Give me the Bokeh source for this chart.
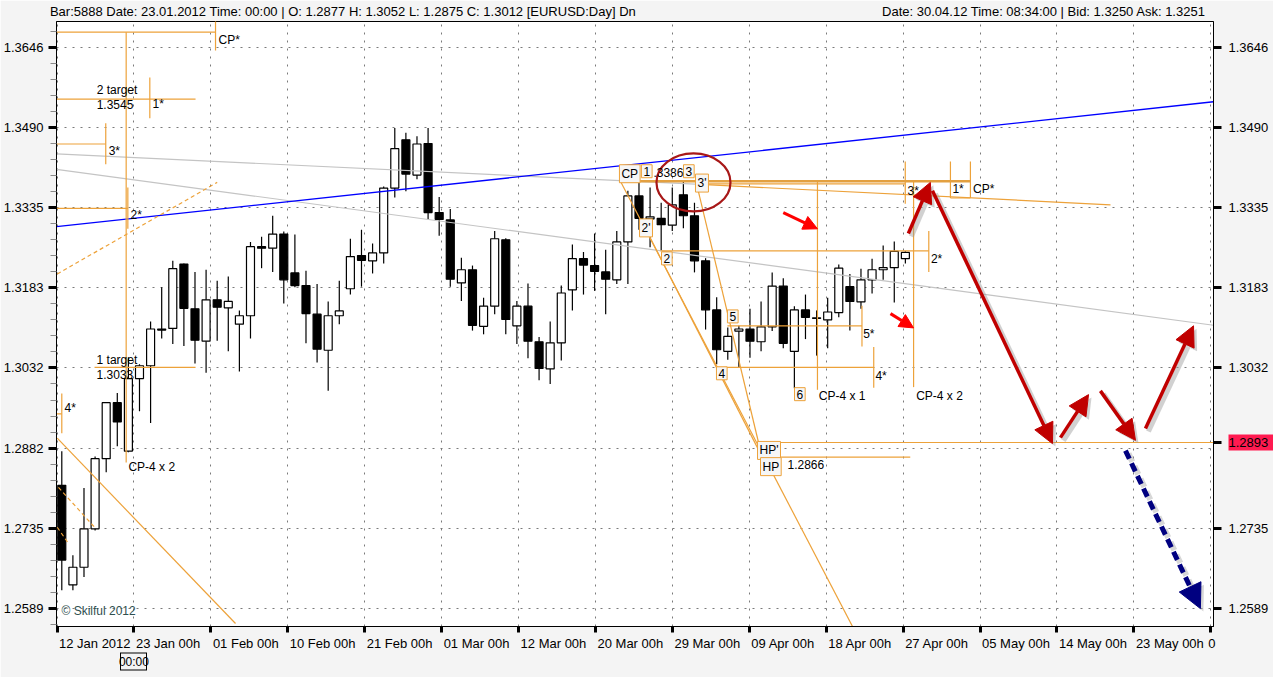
import math
from bokeh.plotting import figure
from bokeh.models import (Range1d, FixedTicker, Label, Arrow, NormalHead, LinearAxis, AllLabels,
                          PrintfTickFormatter, LogAxis, ColumnDataSource, CustomJSTickFormatter)
from bokeh.embed import file_html
from bokeh.resources import INLINE

# ---------------- data (EURUSD daily) ----------------
opens = [1.2814, 1.2632, 1.2664, 1.2734, 1.2863, 1.2967, 1.2877, 1.3012, 1.3036, 1.3105,
         1.3106, 1.3228, 1.3143, 1.3082, 1.3160, 1.3145, 1.3114, 1.3130, 1.3261, 1.3258,
         1.3285, 1.3211, 1.3187, 1.3133, 1.3065, 1.3130, 1.3181, 1.3244, 1.3234, 1.3249,
         1.3373, 1.3466, 1.3398, 1.3459, 1.3326, 1.3312, 1.3192, 1.3217, 1.3110, 1.3148,
         1.3274, 1.3111, 1.3148, 1.3081, 1.3030, 1.3079, 1.3179, 1.3238, 1.3225, 1.3213,
         1.3198, 1.3270, 1.3358, 1.3314, 1.3315, 1.3302, 1.3360, 1.3320, 1.3234, 1.3141,
         1.3063, 1.3101, 1.3105, 1.3081, 1.3109, 1.3186, 1.3063, 1.3141, 1.3125, 1.3122,
         1.3136, 1.3185, 1.3156, 1.3198, 1.3217, 1.3221, 1.3238]
highs = [1.2877, 1.2686, 1.2809, 1.2867, 1.2968, 1.2985, 1.3052, 1.3039, 1.3119, 1.3184,
         1.3234, 1.3229, 1.3213, 1.3217, 1.3196, 1.3204, 1.3140, 1.3270, 1.3280, 1.3320,
         1.3290, 1.3284, 1.3215, 1.3190, 1.3157, 1.3196, 1.3276, 1.3293, 1.3267, 1.3376,
         1.3489, 1.3480, 1.3473, 1.3489, 1.3356, 1.3333, 1.3240, 1.3225, 1.3164, 1.3291,
         1.3277, 1.3158, 1.3191, 1.3090, 1.3119, 1.3187, 1.3265, 1.3251, 1.3286, 1.3255,
         1.3291, 1.3368, 1.3383, 1.3374, 1.3345, 1.3374, 1.3386, 1.3345, 1.3239, 1.3165,
         1.3108, 1.3111, 1.3143, 1.3157, 1.3212, 1.3201, 1.3148, 1.3170, 1.3140, 1.3164,
         1.3227, 1.3209, 1.3219, 1.3238, 1.3263, 1.3271, 1.3252]
lows = [1.2622, 1.2622, 1.2646, 1.2731, 1.2838, 1.2886, 1.2875, 1.2951, 1.2929, 1.3087,
        1.3077, 1.3073, 1.3040, 1.3023, 1.3083, 1.3063, 1.3025, 1.3087, 1.3220, 1.3213,
        1.3153, 1.3184, 1.3078, 1.3042, 1.2989, 1.3114, 1.3170, 1.3185, 1.3210, 1.3229,
        1.3355, 1.3367, 1.3390, 1.3314, 1.3282, 1.3185, 1.3158, 1.3102, 1.3095, 1.3133,
        1.3095, 1.3077, 1.3050, 1.3009, 1.3002, 1.3046, 1.3140, 1.3170, 1.3177, 1.3133,
        1.3190, 1.3190, 1.3293, 1.3260, 1.3253, 1.3291, 1.3296, 1.3212, 1.3104, 1.3039,
        1.3047, 1.3033, 1.3051, 1.3063, 1.3101, 1.3069, 1.2994, 1.3086, 1.3055, 1.3069,
        1.3127, 1.3102, 1.3143, 1.3172, 1.3198, 1.3155, 1.3229]
closes = [1.2677, 1.2664, 1.2734, 1.2863, 1.2967, 1.2931, 1.3012, 1.3036, 1.3105, 1.3103,
          1.3219, 1.3144, 1.3084, 1.3160, 1.3146, 1.3157, 1.3130, 1.3261, 1.3258, 1.3285,
          1.3198, 1.3187, 1.3134, 1.3067, 1.3130, 1.3139, 1.3242, 1.3235, 1.3249, 1.3373,
          1.3449, 1.3400, 1.3458, 1.3326, 1.3313, 1.3199, 1.3217, 1.3112, 1.3148, 1.3276,
          1.3123, 1.3148, 1.3082, 1.3031, 1.3079, 1.3173, 1.3238, 1.3226, 1.3214, 1.3199,
          1.3270, 1.3358, 1.3315, 1.3318, 1.3303, 1.3341, 1.3320, 1.3234, 1.3141, 1.3066,
          1.3091, 1.3105, 1.3082, 1.3109, 1.3186, 1.3078, 1.3141, 1.3127, 1.3126, 1.3137,
          1.3220, 1.3157, 1.3198, 1.3217, 1.3221, 1.3252, 1.3250]

y_ticks = [1.2589, 1.2735, 1.2882, 1.3032, 1.3183, 1.3335, 1.3490, 1.3646]
x_tick_labels = ["12 Jan 2012", "23 Jan 00h", "01 Feb 00h", "10 Feb 00h", "21 Feb 00h",
                 "01 Mar 00h", "12 Mar 00h", "20 Mar 00h", "29 Mar 00h", "09 Apr 00h",
                 "18 Apr 00h", "27 Apr 00h", "05 May 00h", "14 May 00h", "23 May 00h", "0"]

header_left = ("Bar:5888 Date: 23.01.2012 Time: 00:00 | O: 1.2877 H: 1.3052 "
               "L: 1.2875 C: 1.3012 [EURUSD:Day] Dn")
header_right = "Date: 30.04.12 Time: 08:34:00 | Bid: 1.3250 Ask: 1.3251"
cursor_bar = 6.5
cursor_text = "00:00"

# trend lines (bar index, price)
blue_x = [-0.48, 103.76]
blue_y = [1.3299, 1.3540]
grey_x0 = [-0.48, -0.48]
grey_y0 = [1.3439, 1.3409]
grey_x1 = [57.54, 103.76]
grey_y1 = [1.3380, 1.3112]

# orange marker lines (thin)
or_x0 = [-0.48, 13.85, 5.80, -0.48, 7.93, -0.48, 3.96, -0.48, 5.95, 2.95, 0.0, -0.48,
         -0.41, 50.33, 52.86, 57.27, 57.54, 57.54, 75.99, 80.06, 81.86, 80.06, 53.94,
         78.11, 59.97, 72.09, 58.98, 73.15, 68.08, 76.74, 62.77, 62.95]
or_y0 = [1.3676, 1.3700, 1.3676, 1.3545, 1.3587, 1.3458, 1.3498, 1.3334, 1.3374, 1.3033,
         1.2984, 1.2946, 1.2901, 1.3386, 1.3284, 1.3374, 1.3381, 1.3380, 1.3424, 1.3424,
         1.3424, 1.3354, 1.3253, 1.3291, 1.3111, 1.3149, 1.3033, 1.3071, 1.3386, 1.3386,
         1.2893, 1.2866]
or_x1 = [13.85, 13.85, 5.80, 12.05, 7.93, 3.96, 3.96, 5.95, 5.95, 12.05, 0.0, 0.0,
         15.65, 71.41, 63.13, 62.77, 75.99, 94.48, 75.99, 80.06, 81.86, 81.86, 78.11,
         78.11, 72.09, 72.09, 73.15, 73.15, 68.08, 76.74, 103.76, 76.44]
or_y1 = [1.3676, 1.3640, 1.2856, 1.3545, 1.3508, 1.3458, 1.3419, 1.3334, 1.3295, 1.3033,
         1.2910, 1.2946, 1.2562, 1.2550, 1.2865, 1.2893, 1.3381, 1.3341, 1.3343, 1.3354,
         1.3354, 1.3354, 1.3253, 1.3213, 1.3111, 1.3072, 1.3033, 1.2995, 1.2991, 1.2996,
         1.2893, 1.2866]
cp_x = [50.2, 81.86]
cp_y = [1.3386, 1.3386]
od_x0 = [-0.41, -0.30, -0.41]
od_y0 = [1.3209, 1.2810, 1.2737]
od_x1 = [14.0, 3.04, 0.58]
od_y1 = [1.3384, 1.2735, 1.2708]

box_text = ["CP", "1", "3", "3'", "2'", "2", "4", "5", "6", "HP'", "HP"]
box_x = [50.24, 52.22, 56.01, 57.09, 52.05, 54.03, 58.98, 59.97, 66.01, 62.68, 62.95]
box_y = [1.3418, 1.3418, 1.3418, 1.3400, 1.3314, 1.3251, 1.3034, 1.3141, 1.2995, 1.2895, 1.2865]

txt_text = ["CP*", "2 target", "1.3545", "1*", "3*", "2*", "1 target", "1.3033", "4*",
            "CP-4 x 2", ".3386", "CP-4 x 1", "CP-4 x 2", "3*", "1*", "CP*", "2*", "5*",
            "4*", "1.2866"]
txt_x = [14.12, 3.14, 3.14, 8.17, 4.22, 6.19, 3.13, 3.13, 0.24, 6.0, 53.3, 68.2, 76.97,
         76.2, 80.24, 82.1, 78.3, 72.2, 73.3, 65.38]
txt_y = [1.3661, 1.3562, 1.3535, 1.3535, 1.3445, 1.3322, 1.3047, 1.3019, 1.2958, 1.2847,
         1.3403, 1.2980, 1.2980, 1.3368, 1.3372, 1.3372, 1.3238, 1.3096, 1.3017, 1.2853]

dr_x0 = [76.27, 78.44, 89.97, 93.57, 97.63]
dr_y0 = [1.3286, 1.3368, 1.2902, 1.2989, 1.2919]
dr_x1 = [78.25, 89.25, 92.50, 96.73, 101.96]
dr_y1 = [1.3384, 1.2891, 1.2982, 1.2897, 1.3111]
rr_x0 = [65.0, 74.66]
rr_y0 = [1.3326, 1.3134]
rr_x1 = [68.08, 76.74]
rr_y1 = [1.3295, 1.3107]
nv_x0, nv_y0, nv_x1, nv_y1 = 95.83, 1.2878, 102.58, 1.2589

circle_x, circle_y = 56.91, 1.3384
last_line_price = 1.2893

# ---------------- figure ----------------
FONT = "Liberation Sans"
ORANGE = "#eda23a"
Y_LO, Y_HI = 1.25566, 1.3697
X_LO, X_HI = -0.477, 103.76
BAR_PX = 11.1            # horizontal pixels per bar
PX_PER_LN = 6983.0       # vertical pixels per unit of ln(price)

p = figure(width=1273, height=677, x_range=Range1d(X_LO, X_HI), y_range=Range1d(Y_LO, Y_HI),
           y_axis_type="log", output_backend="svg", toolbar_location=None,
           min_border_left=56, min_border_right=60, min_border_top=19, min_border_bottom=51,
           background_fill_color="white", border_fill_color="#f4f4f4",
           outline_line_color="black")

# y ticks
r = (y_ticks[1] / y_ticks[0])
ext = [y_ticks[0] / r] + y_ticks + [y_ticks[-1] * r]
y_minor = []
for a, b in zip(ext[:-1], ext[1:]):
    for j in range(1, 5):
        y_minor.append(a * (b / a) ** (j / 5))
y_ticker = FixedTicker(ticks=y_ticks, minor_ticks=y_minor)

right_axis = LogAxis()
p.add_layout(right_axis, "right")
for ax in [p.yaxis[0], right_axis]:
    ax.formatter = PrintfTickFormatter(format="%.4f")
    ax.axis_line_color = "black"
    ax.major_tick_line_color = "black"
    ax.major_tick_line_width = 3
    ax.major_tick_out = 8
    ax.major_tick_in = 0
    ax.major_label_text_font = FONT
    ax.major_label_text_font_size = "13px"
    ax.major_label_text_color = "black"
    ax.major_label_standoff = 5
p.yaxis[0].ticker = y_ticker
p.yaxis[0].minor_tick_line_color = "#8a8a8a"
p.yaxis[0].minor_tick_out = 6
p.yaxis[0].minor_tick_in = 0
# right scale: the last horizontal line's price tag (red) hides the 1.2882 level
right_major = sorted([t for t in y_ticks if abs(t - last_line_price) > 0.002] + [last_line_price])
right_axis.ticker = FixedTicker(ticks=right_major, minor_ticks=[last_line_price])
right_axis.major_label_policy = AllLabels()
right_axis.minor_tick_line_color = "#ff1a50"
right_axis.minor_tick_line_width = 16
right_axis.minor_tick_in = -60
right_axis.minor_tick_out = 15
right_axis.major_label_standoff = 0

# x ticks: tick marks = minor ticks, labels (left aligned) = major ticks
x_ticks = [-0.43 + 6.93 * k for k in range(len(x_tick_labels))]
label_w = [71.5, 64.3, 65.8, 65.8, 65.8, 65.8, 65.8, 65.8, 65.8, 63.6, 63.6, 63.6,
           67.9, 67.9, 67.9, 7.2]
x_label_pos = [min(t + (2 + w / 2) / BAR_PX, X_HI - 0.15) for t, w in zip(x_ticks, label_w)]
xa = p.xaxis[0]
xa.ticker = FixedTicker(ticks=x_label_pos, minor_ticks=x_ticks)
xa.formatter = CustomJSTickFormatter(args=dict(pos=x_label_pos, labels=x_tick_labels), code="""
    let b = 0;
    for (let i = 0; i < pos.length; i++) {
        if (Math.abs(pos[i] - tick) < Math.abs(pos[b] - tick)) { b = i; }
    }
    return labels[b];
""")
xa.major_tick_line_color = None
xa.major_tick_out = 6
xa.major_tick_in = 0
xa.minor_tick_line_color = "black"
xa.minor_tick_line_width = 3
xa.minor_tick_out = 6
xa.minor_tick_in = 0
xa.axis_line_color = "black"
xa.major_label_text_font = FONT
xa.major_label_text_font_size = "13px"
xa.major_label_text_color = "black"
xa.major_label_standoff = 3
xa.major_label_policy = AllLabels()

# second time-axis row: boxed cursor time (black frame = major tick, fill = minor tick)
cur_axis = LinearAxis(ticker=FixedTicker(ticks=[cursor_bar], minor_ticks=[cursor_bar]),
                      formatter=CustomJSTickFormatter(args=dict(t=cursor_text), code="return t;"),
                      axis_line_color=None,
                      major_tick_line_color="black", major_tick_line_width=27,
                      major_tick_in=1, major_tick_out=17,
                      minor_tick_line_color="#f4f4f4", minor_tick_line_width=25,
                      minor_tick_in=0, minor_tick_out=16,
                      major_label_standoff=-16, major_label_text_font=FONT,
                      major_label_text_font_size="12px", major_label_text_color="black")
p.add_layout(cur_axis, "below")

p.xgrid.ticker = FixedTicker(ticks=x_ticks, minor_ticks=[])
p.ygrid.ticker = FixedTicker(ticks=y_ticks, minor_ticks=[])
for g in [p.xgrid, p.ygrid]:
    g.grid_line_color = "#7a7a7a"
    g.grid_line_dash = "2 6"
    g.grid_line_width = 1

# header line (an axis above the frame carrying the two status texts)
hl_center = (50 + 585 / 2 - 61.3) / BAR_PX
hr_center = (1205 - 323 / 2 - 61.3) / BAR_PX
head_axis = LinearAxis(ticker=FixedTicker(ticks=[hl_center, hr_center], minor_ticks=[]),
                       formatter=CustomJSTickFormatter(
                           args=dict(left=header_left, right=header_right, mid=50.0),
                           code="return tick < mid ? left : right;"),
                       axis_line_color=None, major_tick_line_color=None,
                       minor_tick_line_color=None, major_tick_out=0, major_tick_in=0,
                       major_label_standoff=3, major_label_text_font=FONT,
                       major_label_text_font_size="13px", major_label_text_color="black",
                       major_label_policy=AllLabels())
p.add_layout(head_axis, "above")

# candles
idx = list(range(len(opens)))
src = ColumnDataSource(dict(
    x=idx,
    top=[max(o, c) for o, c in zip(opens, closes)],
    bottom=[min(o, c) for o, c in zip(opens, closes)],
    high=highs, low=lows,
    color=["white" if c >= o else "black" for o, c in zip(opens, closes)],
))
p.segment(x0="x", y0="low", x1="x", y1="high", source=src, line_color="black", line_width=1.2)
p.vbar(x="x", top="top", bottom="bottom", width=0.72, fill_color="color",
       line_color="black", line_width=1.2, source=src)

# trend lines
p.segment(x0=grey_x0, y0=grey_y0, x1=grey_x1, y1=grey_y1, line_color="#c4c4c4", line_width=1.2)
p.line(blue_x, blue_y, line_color="#0000ff", line_width=1.3)
p.segment(x0=or_x0, y0=or_y0, x1=or_x1, y1=or_y1, line_color=ORANGE, line_width=1.2)
p.line(cp_x, cp_y, line_color="#e3a040", line_width=2.5)
p.segment(x0=od_x0, y0=od_y0, x1=od_x1, y1=od_y1, line_color=ORANGE, line_width=1.2,
          line_dash="4 3")

# red circle
p.ellipse(x=[circle_x], y=[circle_y], width=74, height=58, width_units="screen",
          height_units="screen", fill_color=None, line_color="#a81818", line_width=2.2)

for t, bx, by in zip(box_text, box_x, box_y):
    p.add_layout(Label(x=bx, y=by, text=t, text_font=FONT, text_font_size="12px",
                       text_align="left", text_baseline="top", text_color="black",
                       background_fill_color="#f6f6f6", border_line_color=ORANGE,
                       border_line_width=1, padding=2))
for t, tx, ty in zip(txt_text, txt_x, txt_y):
    p.add_layout(Label(x=tx, y=ty, text=t, text_font=FONT, text_font_size="12px",
                       text_align="left", text_baseline="middle", text_color="black"))
p.add_layout(Label(x=-0.03, y=1.2584, text="\u00a9 Skilful 2012", text_font=FONT,
                   text_font_size="12px", text_align="left", text_baseline="middle",
                   text_color="#2f4f4f"))

# arrows with a soft drop shadow
sdx = 3 / BAR_PX
sdy = math.exp(-3 / PX_PER_LN)
for x0, y0, x1, y1 in zip(dr_x0, dr_y0, dr_x1, dr_y1):
    p.add_layout(Arrow(x_start=x0 + sdx, y_start=y0 * sdy, x_end=x1 + sdx, y_end=y1 * sdy,
                       line_color="#9a9a9a", line_alpha=0.45, line_width=5,
                       end=NormalHead(size=20, fill_color="#9a9a9a", fill_alpha=0.45,
                                      line_color=None)))
p.add_layout(Arrow(x_start=nv_x0 + sdx, y_start=nv_y0 * sdy, x_end=nv_x1 + sdx, y_end=nv_y1 * sdy,
                   line_color="#9a9a9a", line_alpha=0.4, line_width=6, line_dash="9 5",
                   end=NormalHead(size=24, fill_color="#9a9a9a", fill_alpha=0.4, line_color=None)))
for x0, y0, x1, y1 in zip(rr_x0, rr_y0, rr_x1, rr_y1):
    p.add_layout(Arrow(x_start=x0, y_start=y0, x_end=x1, y_end=y1, line_color="#ff0000",
                       line_width=3, end=NormalHead(size=14, fill_color="#ff0000",
                                                    line_color="#ff0000")))
for x0, y0, x1, y1 in zip(dr_x0, dr_y0, dr_x1, dr_y1):
    p.add_layout(Arrow(x_start=x0, y_start=y0, x_end=x1, y_end=y1, line_color="#c00000",
                       line_width=3.5, end=NormalHead(size=20, fill_color="#c00000",
                                                      line_color="#c00000")))
p.add_layout(Arrow(x_start=nv_x0, y_start=nv_y0, x_end=nv_x1, y_end=nv_y1,
                   line_color="#000080", line_width=5, line_dash="9 5",
                   end=NormalHead(size=24, fill_color="#000080", line_color="#000080")))

open("out.html", "w").write(file_html(p, INLINE))
